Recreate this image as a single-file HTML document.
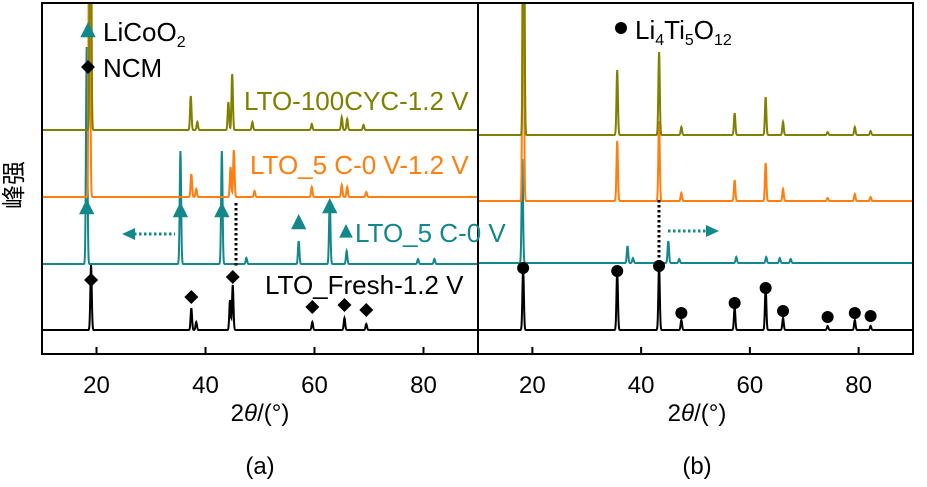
<!DOCTYPE html>
<html><head><meta charset="utf-8">
<style>
html,body{margin:0;padding:0;background:#fff;}
svg{display:block;font-family:"Liberation Sans","Noto Sans CJK SC",sans-serif;}
</style></head>
<body>
<svg id="chart" width="927" height="487" viewBox="0 0 927 487">
<defs>
<clipPath id="clipA"><rect x="42" y="3" width="436" height="351"/></clipPath>
<clipPath id="clipB"><rect x="478" y="3" width="435" height="351"/></clipPath>
</defs>
<g id="plots"></g>
<rect x="42" y="3" width="871" height="351" fill="none" stroke="#000" stroke-width="2"/>
<line x1="478" y1="3" x2="478" y2="354" stroke="#000" stroke-width="2"/>
<g id="axes"></g>
<g id="annot"></g>
<text x="22" y="185" font-size="24" text-anchor="middle" transform="rotate(-90 22 185)">峰强</text>
<text x="260" y="421" font-size="24" text-anchor="middle">2<tspan font-style="italic">θ</tspan>/(°)</text>
<text x="697" y="421" font-size="24" text-anchor="middle">2<tspan font-style="italic">θ</tspan>/(°)</text>
<text x="260" y="474" font-size="24" text-anchor="middle">(a)</text>
<text x="697" y="474" font-size="24" text-anchor="middle">(b)</text>
</svg>
<script>
// ---- data ----
const xTicks = [20, 40, 60, 80];
const seriesNames = ["LTO-100CYC-1.2 V", "LTO_5 C-0 V-1.2 V", "LTO_5 C-0 V", "LTO_Fresh-1.2 V"];
const seriesColors = ["#808000", "#ff7f0e", "#13888a", "#000000"];
// baseline offsets (intensity units, 0 = bottom of plot)
const offsetsA = [224, 157, 90, 24];
const offsetsB = [219, 153, 91, 24];
// panel (a) peaks: [2theta, height]
const peaksA_olive = [[18.9, 400], [37.3, 34], [38.5, 8], [44.2, 28], [44.9, 56], [48.6, 8], [59.5, 6], [65.0, 13], [66.0, 11], [69.0, 5]];
const peaksA_orange = [[18.7, 400], [37.4, 23], [38.3, 8], [44.6, 30], [45.2, 47], [49.0, 6], [59.5, 10], [65.0, 12], [66.0, 10], [69.5, 5]];
const peaksA_teal = [[18.2, 217], [35.4, 113], [43.0, 113], [47.5, 6], [57.1, 23], [62.8, 63], [65.9, 13], [79.0, 5], [82.0, 5]];
const peaksA_black = [[19.0, 65], [37.4, 22], [38.3, 8], [44.5, 30], [45.0, 45], [59.6, 8], [65.5, 12], [69.5, 6]];
// panel (b) peaks
const peaksB_olive = [[18.4, 400], [35.6, 65], [43.3, 83], [47.4, 8], [57.2, 22], [62.9, 38], [66.1, 13], [74.3, 3], [79.3, 8], [82.2, 4]];
const peaksB_orange = [[18.3, 400], [35.6, 60], [43.3, 80], [47.4, 8], [57.2, 21], [62.9, 38], [66.1, 12], [74.3, 3], [79.3, 7], [82.2, 4]];
const peaksB_teal = [[18.15, 104], [37.5, 17], [38.5, 5], [45.0, 22], [47.0, 4], [57.5, 6], [63.0, 6], [65.5, 5], [67.5, 4]];
const peaksB_black = [[18.3, 63], [35.6, 60], [43.3, 65], [47.4, 10], [57.2, 23], [62.9, 43], [66.1, 12], [74.3, 4], [79.3, 10], [82.2, 4]];
// markers
const licoo2Markers = [18.2, 35.4, 43.0, 57.1, 62.8];
const licoo2MarkerH = [146, 143, 143, 131, 147];
const ncmMarkers = [19.0, 37.4, 45.0, 59.6, 65.5, 69.5];
const ncmMarkerH = [74, 57, 77, 47, 49, 44];
const ltoMarkers = [18.3, 35.6, 43.3, 47.4, 57.2, 62.9, 66.1, 74.3, 79.3, 82.2];
const ltoMarkerH = [86, 83, 88, 41, 51, 66, 43, 37, 41, 38];

// ---- scales ----
const yBottom = 354;
function xA(v){ return 42 + (v - 10) * 436 / 80; }
function xB(v){ return 478 + (v - 10) * 435 / 80; }
function yS(v){ return yBottom - v; }
const NS = "http://www.w3.org/2000/svg";
function mk(tag, attrs, parent){ const e = document.createElementNS(NS, tag); for (const k in attrs) e.setAttribute(k, attrs[k]); parent.appendChild(e); return e; }

function profile(peaks, offset, xf){
  let d = "";
  for (let t = 10; t <= 90.001; t += 0.05){
    let v = offset;
    for (const p of peaks){ const dx = (t - p[0]) / 0.13; v += p[1] * Math.exp(-dx*dx/2); }
    d += (d ? "L" : "M") + xf(t).toFixed(2) + "," + yS(v).toFixed(2);
  }
  return d;
}
const plots = document.getElementById("plots");
const gA = mk("g", {"clip-path": "url(#clipA)"}, plots);


const gB = mk("g", {"clip-path": "url(#clipB)"}, plots);


const setA = [peaksA_olive, peaksA_orange, peaksA_teal, peaksA_black];
const setB = [peaksB_olive, peaksB_orange, peaksB_teal, peaksB_black];
const slugs = ["lto-100cyc", "lto-5c-0v-1-2v", "lto-5c-0v", "lto-fresh"];
for (let i = 3; i >= 0; i--){
  const pa = mk("path", {d: profile(setA[i], offsetsA[i], xA), fill: "none", stroke: seriesColors[i], "stroke-width": 2}, gA);
  
  
  const pb = mk("path", {d: profile(setB[i], offsetsB[i], xB), fill: "none", stroke: seriesColors[i], "stroke-width": 2}, gB);
  
  
}

// axes
const axes = document.getElementById("axes");
for (const t of xTicks){
  for (const [xf, p] of [[xA, "a"], [xB, "b"]]){
    const l = mk("line", {x1: xf(t), x2: xf(t), y1: yBottom, y2: yBottom - 7, stroke: "#000", "stroke-width": 2}, axes);
    
    
    const tx = mk("text", {x: xf(t), y: 393, "font-size": 24, "text-anchor": "middle"}, axes);
    tx.textContent = t;
    
    
  }
}

// annotations
const an = document.getElementById("annot");
function tri(cx, cy, s, col, name){
  const e = mk("polygon", {points: `${cx},${cy-s} ${cx-s*0.85},${cy+s*0.7} ${cx+s*0.85},${cy+s*0.7}`, fill: col}, an);
  
  
}
function dia(cx, cy, s, name){
  const e = mk("polygon", {points: `${cx},${cy-s} ${cx+s},${cy} ${cx},${cy+s} ${cx-s},${cy}`, fill: "#000"}, an);
  
  
}
function dot(cx, cy, r, name){
  const e = mk("circle", {cx: cx, cy: cy, r: r, fill: "#000"}, an);
  
  
}
licoo2Markers.forEach((t, i) => tri(xA(t), yS(licoo2MarkerH[i]), 9, "#13888a", "licoo2-marker"));
ncmMarkers.forEach((t, i) => dia(xA(t), yS(ncmMarkerH[i]), 7, "ncm-marker"));
ltoMarkers.forEach((t, i) => dot(xB(t), yS(ltoMarkerH[i]), 6, "lto-marker"));

// legend
tri(88, 31, 9, "#13888a", "legend-licoo2-symbol");
dia(88, 67, 7, "legend-ncm-symbol");
dot(621, 28, 6, "legend-lto-symbol");
function txt(x, y, s, col, name, html){
  const e = mk("text", {x: x, y: y, "font-size": 26, fill: col}, an);
  if (html) e.innerHTML = s; else e.textContent = s;
  
  
  return e;
}
txt(103, 41, 'LiCoO<tspan font-size="16" dy="6">2</tspan>', "#000", "legend-licoo2-label", true);
txt(103, 77, "NCM", "#000", "legend-ncm-label");
txt(635, 39, 'Li<tspan font-size="16" dy="6">4</tspan><tspan dy="-6">Ti</tspan><tspan font-size="16" dy="6">5</tspan><tspan dy="-6">O</tspan><tspan font-size="16" dy="6">12</tspan>', "#000", "legend-lto-label", true);
txt(244, 110, seriesNames[0], seriesColors[0], "label-lto-100cyc");
txt(250, 174, seriesNames[1], seriesColors[1], "label-lto-5c-0v-1-2v");
tri(346, 232, 8, "#13888a", "label-lto-5c-0v-symbol");
txt(355, 242, seriesNames[2], seriesColors[2], "label-lto-5c-0v");
txt(265, 294, seriesNames[3], seriesColors[3], "label-lto-fresh");

// dotted guides and arrows
function dl(x1, y1, x2, y2, col, name){
  const e = mk("line", {x1, y1, x2, y2, stroke: col, "stroke-width": 3, "stroke-dasharray": "2.5,2.5"}, an);
  
  
}
dl(236, 203, 236, 268, "#000", "shift-guide-a");
dl(659, 200, 659, 262, "#000", "shift-guide-b");
dl(134, 234, 175, 234, "#13888a", "shift-arrow-a");
dl(668, 231, 706, 231, "#13888a", "shift-arrow-b");
const ha = mk("polygon", {points: "122,234 135,228 135,240", fill: "#13888a"}, an);


const hb = mk("polygon", {points: "719,231 706,225 706,237", fill: "#13888a"}, an);


</script>
</body></html>
